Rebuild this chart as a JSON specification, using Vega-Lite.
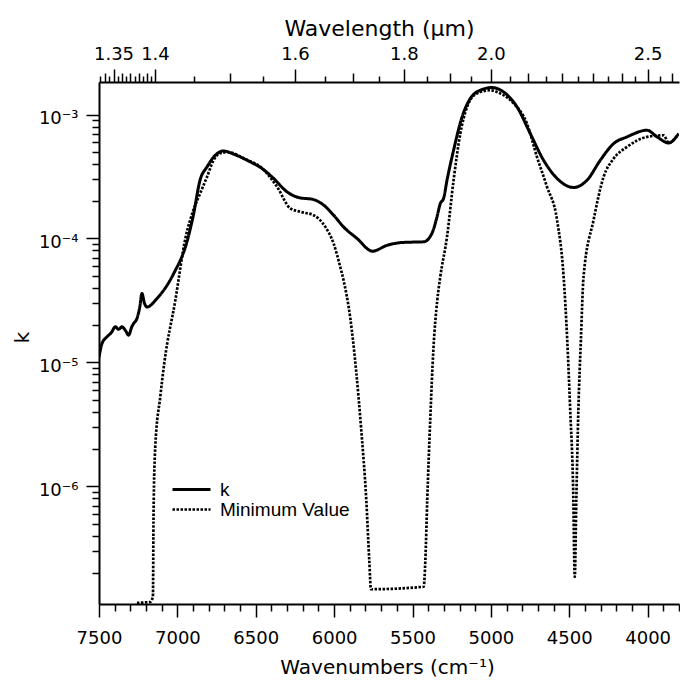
{
  "$schema": "https://vega.github.io/schema/vega-lite/v6.json",
  "width": 580,
  "height": 522,
  "autosize": {"type": "none"},
  "padding": {"left": 99, "top": 82, "right": 1, "bottom": 78},
  "config": {
    "view": {"stroke": null},
    "axis": {
      "grid": false,
      "domainColor": "black",
      "tickColor": "black",
      "labelColor": "black",
      "titleColor": "black",
      "labelFont": "DejaVu Sans",
      "titleFont": "DejaVu Sans",
      "titleFontWeight": "normal",
      "domainWidth": 2,
      "tickWidth": 1.5,
      "labelFontSize": 18,
      "titleFontSize": 20
    }
  },
  "layer": [
    {
      "data": {
        "values": [
          {"wn": 7500, "k": 1.1e-5, "series": "k"},
          {"wn": 7481, "k": 1.42e-5, "series": "k"},
          {"wn": 7449, "k": 1.61e-5, "series": "k"},
          {"wn": 7420, "k": 1.75e-5, "series": "k"},
          {"wn": 7396, "k": 1.94e-5, "series": "k"},
          {"wn": 7375, "k": 1.85e-5, "series": "k"},
          {"wn": 7353, "k": 1.94e-5, "series": "k"},
          {"wn": 7330, "k": 1.8e-5, "series": "k"},
          {"wn": 7311, "k": 1.66e-5, "series": "k"},
          {"wn": 7290, "k": 1.95e-5, "series": "k"},
          {"wn": 7279, "k": 2.06e-5, "series": "k"},
          {"wn": 7258, "k": 2.26e-5, "series": "k"},
          {"wn": 7240, "k": 2.8e-5, "series": "k"},
          {"wn": 7226, "k": 3.6e-5, "series": "k"},
          {"wn": 7210, "k": 3.0e-5, "series": "k"},
          {"wn": 7194, "k": 2.8e-5, "series": "k"},
          {"wn": 7130, "k": 3.28e-5, "series": "k"},
          {"wn": 7024, "k": 5.2e-5, "series": "k"},
          {"wn": 6939, "k": 9.4e-5, "series": "k"},
          {"wn": 6900, "k": 1.5e-4, "series": "k"},
          {"wn": 6854, "k": 3.0e-4, "series": "k"},
          {"wn": 6811, "k": 3.78e-4, "series": "k"},
          {"wn": 6758, "k": 4.7e-4, "series": "k"},
          {"wn": 6705, "k": 5.08e-4, "series": "k"},
          {"wn": 6641, "k": 4.79e-4, "series": "k"},
          {"wn": 6535, "k": 4.15e-4, "series": "k"},
          {"wn": 6460, "k": 3.67e-4, "series": "k"},
          {"wn": 6386, "k": 3.05e-4, "series": "k"},
          {"wn": 6301, "k": 2.38e-4, "series": "k"},
          {"wn": 6227, "k": 2.14e-4, "series": "k"},
          {"wn": 6131, "k": 2.06e-4, "series": "k"},
          {"wn": 6067, "k": 1.86e-4, "series": "k"},
          {"wn": 6003, "k": 1.54e-4, "series": "k"},
          {"wn": 5940, "k": 1.24e-4, "series": "k"},
          {"wn": 5854, "k": 1.0e-4, "series": "k"},
          {"wn": 5755, "k": 7.9e-5, "series": "k"},
          {"wn": 5663, "k": 8.8e-5, "series": "k"},
          {"wn": 5557, "k": 9.3e-5, "series": "k"},
          {"wn": 5429, "k": 9.4e-5, "series": "k"},
          {"wn": 5376, "k": 1.1e-4, "series": "k"},
          {"wn": 5344, "k": 1.49e-4, "series": "k"},
          {"wn": 5323, "k": 1.91e-4, "series": "k"},
          {"wn": 5302, "k": 2.1e-4, "series": "k"},
          {"wn": 5280, "k": 2.95e-4, "series": "k"},
          {"wn": 5238, "k": 5.15e-4, "series": "k"},
          {"wn": 5184, "k": 9.56e-4, "series": "k"},
          {"wn": 5131, "k": 1.35e-3, "series": "k"},
          {"wn": 5068, "k": 1.57e-3, "series": "k"},
          {"wn": 4993, "k": 1.65e-3, "series": "k"},
          {"wn": 4919, "k": 1.52e-3, "series": "k"},
          {"wn": 4833, "k": 1.15e-3, "series": "k"},
          {"wn": 4749, "k": 7.03e-4, "series": "k"},
          {"wn": 4664, "k": 4.28e-4, "series": "k"},
          {"wn": 4578, "k": 3.05e-4, "series": "k"},
          {"wn": 4472, "k": 2.58e-4, "series": "k"},
          {"wn": 4387, "k": 2.95e-4, "series": "k"},
          {"wn": 4302, "k": 4.28e-4, "series": "k"},
          {"wn": 4217, "k": 5.83e-4, "series": "k"},
          {"wn": 4132, "k": 6.6e-4, "series": "k"},
          {"wn": 4004, "k": 7.47e-4, "series": "k"},
          {"wn": 3940, "k": 6.6e-4, "series": "k"},
          {"wn": 3866, "k": 5.9e-4, "series": "k"},
          {"wn": 3803, "k": 7.0e-4, "series": "k"},
          {"wn": 7258, "k": 1.15e-7, "series": "Minimum Value"},
          {"wn": 7173, "k": 1.17e-7, "series": "Minimum Value"},
          {"wn": 7156, "k": 1.29e-7, "series": "Minimum Value"},
          {"wn": 7152, "k": 6.05e-7, "series": "Minimum Value"},
          {"wn": 7141, "k": 2.08e-6, "series": "Minimum Value"},
          {"wn": 7109, "k": 5.3e-6, "series": "Minimum Value"},
          {"wn": 7083, "k": 1.0e-5, "series": "Minimum Value"},
          {"wn": 7013, "k": 3.18e-5, "series": "Minimum Value"},
          {"wn": 6949, "k": 1.0e-4, "series": "Minimum Value"},
          {"wn": 6898, "k": 1.69e-4, "series": "Minimum Value"},
          {"wn": 6854, "k": 2.32e-4, "series": "Minimum Value"},
          {"wn": 6811, "k": 3.14e-4, "series": "Minimum Value"},
          {"wn": 6769, "k": 4.28e-4, "series": "Minimum Value"},
          {"wn": 6726, "k": 4.88e-4, "series": "Minimum Value"},
          {"wn": 6675, "k": 4.97e-4, "series": "Minimum Value"},
          {"wn": 6567, "k": 4.36e-4, "series": "Minimum Value"},
          {"wn": 6470, "k": 3.78e-4, "series": "Minimum Value"},
          {"wn": 6364, "k": 2.61e-4, "series": "Minimum Value"},
          {"wn": 6280, "k": 1.75e-4, "series": "Minimum Value"},
          {"wn": 6216, "k": 1.64e-4, "series": "Minimum Value"},
          {"wn": 6131, "k": 1.54e-4, "series": "Minimum Value"},
          {"wn": 6056, "k": 1.24e-4, "series": "Minimum Value"},
          {"wn": 6003, "k": 9.1e-5, "series": "Minimum Value"},
          {"wn": 5961, "k": 5.9e-5, "series": "Minimum Value"},
          {"wn": 5940, "k": 4.61e-5, "series": "Minimum Value"},
          {"wn": 5897, "k": 2.28e-5, "series": "Minimum Value"},
          {"wn": 5859, "k": 8.4e-6, "series": "Minimum Value"},
          {"wn": 5827, "k": 2.85e-6, "series": "Minimum Value"},
          {"wn": 5795, "k": 7.8e-7, "series": "Minimum Value"},
          {"wn": 5776, "k": 2.55e-7, "series": "Minimum Value"},
          {"wn": 5765, "k": 1.48e-7, "series": "Minimum Value"},
          {"wn": 5429, "k": 1.55e-7, "series": "Minimum Value"},
          {"wn": 5418, "k": 2.55e-7, "series": "Minimum Value"},
          {"wn": 5406, "k": 7.8e-7, "series": "Minimum Value"},
          {"wn": 5387, "k": 3.43e-6, "series": "Minimum Value"},
          {"wn": 5367, "k": 1.26e-5, "series": "Minimum Value"},
          {"wn": 5342, "k": 3.18e-5, "series": "Minimum Value"},
          {"wn": 5323, "k": 4.9e-5, "series": "Minimum Value"},
          {"wn": 5280, "k": 1.03e-4, "series": "Minimum Value"},
          {"wn": 5238, "k": 2.95e-4, "series": "Minimum Value"},
          {"wn": 5195, "k": 7.03e-4, "series": "Minimum Value"},
          {"wn": 5152, "k": 1.15e-3, "series": "Minimum Value"},
          {"wn": 5089, "k": 1.48e-3, "series": "Minimum Value"},
          {"wn": 5004, "k": 1.57e-3, "series": "Minimum Value"},
          {"wn": 4940, "k": 1.48e-3, "series": "Minimum Value"},
          {"wn": 4855, "k": 1.23e-3, "series": "Minimum Value"},
          {"wn": 4770, "k": 8.46e-4, "series": "Minimum Value"},
          {"wn": 4706, "k": 4.55e-4, "series": "Minimum Value"},
          {"wn": 4642, "k": 2.61e-4, "series": "Minimum Value"},
          {"wn": 4578, "k": 1.41e-4, "series": "Minimum Value"},
          {"wn": 4536, "k": 4.9e-5, "series": "Minimum Value"},
          {"wn": 4513, "k": 1.51e-5, "series": "Minimum Value"},
          {"wn": 4494, "k": 4.12e-6, "series": "Minimum Value"},
          {"wn": 4475, "k": 9.3e-7, "series": "Minimum Value"},
          {"wn": 4465, "k": 1.86e-7, "series": "Minimum Value"},
          {"wn": 4455, "k": 7.8e-7, "series": "Minimum Value"},
          {"wn": 4442, "k": 4.12e-6, "series": "Minimum Value"},
          {"wn": 4426, "k": 1.51e-5, "series": "Minimum Value"},
          {"wn": 4409, "k": 4.9e-5, "series": "Minimum Value"},
          {"wn": 4345, "k": 1.41e-4, "series": "Minimum Value"},
          {"wn": 4281, "k": 3.14e-4, "series": "Minimum Value"},
          {"wn": 4217, "k": 4.41e-4, "series": "Minimum Value"},
          {"wn": 4132, "k": 5.48e-4, "series": "Minimum Value"},
          {"wn": 4004, "k": 6.6e-4, "series": "Minimum Value"},
          {"wn": 3898, "k": 6.8e-4, "series": "Minimum Value"},
          {"wn": 3866, "k": 5.9e-4, "series": "Minimum Value"},
          {"wn": 3803, "k": 7.0e-4, "series": "Minimum Value"}
        ]
      },
      "mark": {"type": "line", "color": "black", "clip": true, "interpolate": "monotone"},
      "encoding": {
        "x": {
          "field": "wn",
          "type": "quantitative",
          "scale": {"domain": [3800, 7500], "reverse": true, "nice": false, "zero": false},
          "axis": {
            "orient": "bottom",
            "values": [7500, 7400, 7300, 7200, 7100, 7000, 6900, 6800, 6700, 6600, 6500, 6400, 6300, 6200, 6100, 6000, 5900, 5800, 5700, 5600, 5500, 5400, 5300, 5200, 5100, 5000, 4900, 4800, 4700, 4600, 4500, 4400, 4300, 4200, 4100, 4000, 3900, 3800],
            "format": "d",
            "labelExpr": "datum.value % 500 === 0 ? datum.label : ''",
            "tickSize": {"condition": {"test": "datum.value % 500 === 0", "value": 13}, "value": 7},
            "labelPadding": 12,
            "labelFlush": false,
            "labelOverlap": false,
            "title": "Wavenumbers (cm⁻¹)",
            "titleFontSize": 20,
            "titleBaseline": "alphabetic",
            "titleY": 69,
            "titleX": 288
          }
        },
        "y": {
          "field": "k",
          "type": "quantitative",
          "scale": {"type": "log", "domain": [1.125e-7, 1.83e-3], "nice": false},
          "axis": {
            "orient": "left",
            "values": [2e-7, 3e-7, 4e-7, 5e-7, 6e-7, 7e-7, 8e-7, 9e-7, 1e-6, 2e-6, 3e-6, 4e-6, 5e-6, 6e-6, 7e-6, 8e-6, 9e-6, 1e-5, 2e-5, 3e-5, 4e-5, 5e-5, 6e-5, 7e-5, 8e-5, 9e-5, 1e-4, 2e-4, 3e-4, 4e-4, 5e-4, 6e-4, 7e-4, 8e-4, 9e-4, 1e-3],
            "labelExpr": "datum.value == 1e-3 ? '10⁻³' : datum.value == 1e-4 ? '10⁻⁴' : datum.value == 1e-5 ? '10⁻⁵' : datum.value == 1e-6 ? '10⁻⁶' : ''",
            "tickSize": {"condition": {"test": "indexof([1e-6, 1e-5, 1e-4, 1e-3], datum.value) >= 0", "value": 13}, "value": 7},
            "labelPadding": 8,
            "labelOffset": 4,
            "labelOverlap": false,
            "labelBound": false,
            "title": "k",
            "titleAngle": -90,
            "titleX": -71,
            "titleY": 255,
            "titleAlign": "center",
            "titleBaseline": "alphabetic",
            "titleFontSize": 20
          }
        },
        "strokeDash": {
          "field": "series",
          "type": "nominal",
          "scale": {"domain": ["k", "Minimum Value"], "range": [[1, 0], [2.5, 1.5]]},
          "legend": {
            "orient": "none",
            "legendX": 72,
            "legendY": 401,
            "title": null,
            "symbolType": "stroke",
            "symbolSize": 1444,
            "symbolStrokeWidth": 2.5,
            "symbolStrokeColor": "black",
            "clipHeight": 13,
            "labelFont": "Liberation Sans",
            "labelFontSize": 19,
            "labelColor": "black",
            "labelOffset": 8,
            "rowPadding": 0,
            "padding": 0
          }
        },
        "strokeWidth": {
          "field": "series",
          "type": "nominal",
          "scale": {"domain": ["k", "Minimum Value"], "range": [3, 2.7]},
          "legend": null
        }
      }
    },
    {
      "data": {"values": [{"w": 2}]},
      "mark": {"type": "point", "opacity": 0},
      "encoding": {
        "x": {
          "field": "w",
          "type": "quantitative",
          "scale": {"type": "pow", "exponent": -1, "domain": [1.3333333333, 2.6315789474], "nice": false, "zero": false},
          "axis": {
            "orient": "top",
            "values": [1.335, 1.34, 1.345, 1.35, 1.355, 1.36, 1.365, 1.37, 1.375, 1.38, 1.385, 1.39, 1.395, 1.4, 1.45, 1.5, 1.55, 1.6, 1.65, 1.7, 1.75, 1.8, 1.85, 1.9, 1.95, 2, 2.05, 2.1, 2.15, 2.2, 2.25, 2.3, 2.35, 2.4, 2.45, 2.5, 2.55, 2.6],
            "labelExpr": "datum.value == 1.35 ? '1.35' : datum.value == 1.4 ? '1.4' : datum.value == 1.6 ? '1.6' : datum.value == 1.8 ? '1.8' : datum.value == 2 ? '2.0' : datum.value == 2.5 ? '2.5' : ''",
            "tickSize": {"condition": [{"test": "indexof([1.35, 1.4, 1.6, 1.8, 2, 2.5], datum.value) >= 0", "value": 13}, {"test": "indexof([1.34, 1.36, 1.37, 1.38, 1.39, 1.5, 1.7, 1.9, 2.1, 2.2, 2.3, 2.4, 2.6], datum.value) >= 0", "value": 9}], "value": 6},
            "labelPadding": 6,
            "labelFlush": false,
            "labelOverlap": false,
            "title": "Wavelength (μm)",
            "titleFontSize": 22,
            "titleBaseline": "alphabetic",
            "titleY": -47,
            "titleX": 280
          }
        }
      }
    }
  ],
  "resolve": {"scale": {"x": "independent"}, "axis": {"x": "independent"}}
}
